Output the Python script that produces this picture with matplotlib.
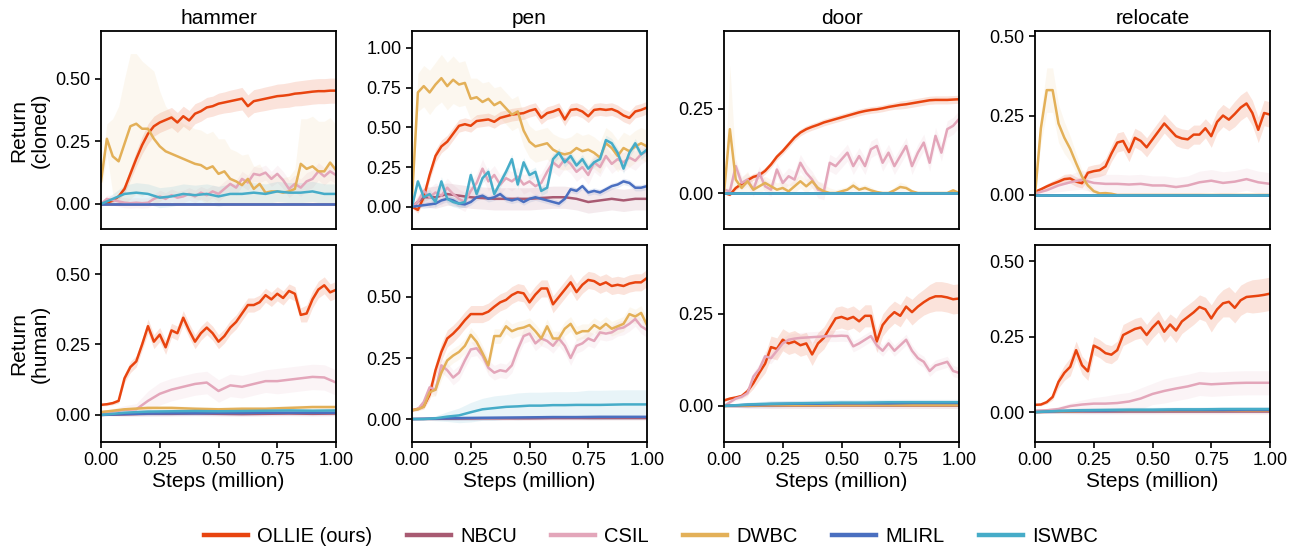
import matplotlib.pyplot as plt
import numpy as np
from matplotlib.lines import Line2D

plt.rcParams['font.family'] = ['Liberation Sans', 'DejaVu Sans']

methods = ['OLLIE (ours)', 'NBCU', 'CSIL', 'DWBC', 'MLIRL', 'ISWBC']
colors = ['#E8440F', '#A85A72', '#E3A6BA', '#E3B058', '#4A6FC0', '#46ACC8']
band_alpha = [0.15, 0.12, 0.12, 0.09, 0.12, 0.12]
tasks = ['hammer', 'pen', 'door', 'relocate']
rows = ['cloned', 'human']

# flat curves sitting on zero
FLAT_ZERO = [0.0, 0.0, 0.0, 0.0, 0.0, 0.0, 0.0, 0.0, 0.0, 0.0, 0.0]
FLAT_SD = [0.002, 0.003, 0.003, 0.003, 0.003, 0.003, 0.003, 0.003, 0.003, 0.003, 0.003]
SMALL_SD = [0.002, 0.006, 0.008, 0.008, 0.008, 0.008, 0.008, 0.008, 0.008, 0.008, 0.008]

# ---------------- hammer (cloned) ----------------
HC_OLLIE = [0.000, 0.005, 0.013, 0.030, 0.060, 0.120, 0.180, 0.235, 0.280, 0.310,
            0.325, 0.335, 0.345, 0.325, 0.350, 0.333, 0.360, 0.370, 0.385, 0.390,
            0.400, 0.405, 0.410, 0.415, 0.420, 0.390, 0.410, 0.415, 0.420, 0.425,
            0.430, 0.432, 0.435, 0.440, 0.442, 0.445, 0.448, 0.450, 0.450, 0.452,
            0.452]
HC_OLLIE_SD = [0.003, 0.005, 0.008, 0.012, 0.018, 0.025, 0.030, 0.035, 0.040, 0.040,
               0.040, 0.040, 0.040, 0.040, 0.040, 0.040, 0.040, 0.040, 0.040, 0.040,
               0.042, 0.042, 0.044, 0.044, 0.045, 0.045, 0.046, 0.046, 0.047, 0.047,
               0.048, 0.048, 0.049, 0.049, 0.050, 0.050, 0.050, 0.050, 0.050, 0.050,
               0.050]
HC_DWBC = [0.09, 0.26, 0.19, 0.17, 0.24, 0.31, 0.32, 0.30, 0.30, 0.26,
           0.23, 0.21, 0.20, 0.19, 0.18, 0.17, 0.16, 0.155, 0.14, 0.15,
           0.12, 0.13, 0.10, 0.09, 0.075, 0.10, 0.06, 0.08, 0.045, 0.05,
           0.05, 0.045, 0.05, 0.06, 0.16, 0.14, 0.15, 0.13, 0.13, 0.165,
           0.135]
HC_DWBC_SD = [0.05, 0.06, 0.15, 0.22, 0.26, 0.29, 0.28, 0.27, 0.25, 0.27,
              0.22, 0.18, 0.16, 0.15, 0.14, 0.14, 0.14, 0.14, 0.14, 0.14,
              0.14, 0.13, 0.12, 0.12, 0.12, 0.10, 0.09, 0.08, 0.07, 0.07,
              0.06, 0.06, 0.06, 0.08, 0.18, 0.2, 0.2, 0.2, 0.2, 0.18,
              0.18]
HC_CSIL = [0.0, 0.02, 0.015, 0.01, 0.005, 0.003, 0.005, 0.003, 0.005, 0.02,
           0.03, 0.02, 0.035, 0.025, 0.03, 0.04, 0.03, 0.045, 0.035, 0.05,
           0.04, 0.06, 0.08, 0.065, 0.10, 0.085, 0.12, 0.115, 0.125, 0.10,
           0.12, 0.095, 0.06, 0.08, 0.065, 0.09, 0.10, 0.13, 0.11, 0.13,
           0.115]
HC_CSIL_SD = [0.01, 0.015, 0.02, 0.02, 0.02, 0.02, 0.02, 0.02, 0.02, 0.02,
              0.025, 0.025, 0.025, 0.025, 0.025, 0.025, 0.025, 0.025, 0.025, 0.025,
              0.03, 0.03, 0.03, 0.03, 0.03, 0.03, 0.03, 0.03, 0.03, 0.03,
              0.035, 0.035, 0.035, 0.035, 0.035, 0.035, 0.035, 0.035, 0.035, 0.035,
              0.035]
HC_ISWBC = [0.0, 0.02, 0.04, 0.045, 0.04, 0.025, 0.03, 0.04, 0.035, 0.04,
            0.03, 0.04, 0.04, 0.045, 0.04, 0.05, 0.045, 0.045, 0.05, 0.04,
            0.04]
HC_ISWBC_SD = [0.005, 0.02, 0.035, 0.04, 0.04, 0.04, 0.04, 0.04, 0.04, 0.04,
               0.04, 0.04, 0.04, 0.04, 0.04, 0.04, 0.04, 0.04, 0.04, 0.04,
               0.04]

# ---------------- pen (cloned) ----------------
PC_OLLIE = [0.0, -0.02, 0.06, 0.20, 0.32, 0.38, 0.41, 0.46, 0.51, 0.52,
            0.51, 0.54, 0.545, 0.55, 0.535, 0.56, 0.57, 0.58, 0.585, 0.59,
            0.605, 0.615, 0.56, 0.59, 0.60, 0.615, 0.55, 0.61, 0.615, 0.60,
            0.57, 0.61, 0.615, 0.61, 0.615, 0.60, 0.575, 0.56, 0.60, 0.61,
            0.625]
PC_OLLIE_SD = [0.01, 0.02, 0.03, 0.035, 0.04, 0.04, 0.04, 0.04, 0.04, 0.04,
               0.04, 0.04, 0.04, 0.04, 0.04, 0.04, 0.04, 0.04, 0.04, 0.04,
               0.04, 0.04, 0.04, 0.04, 0.04, 0.04, 0.04, 0.04, 0.04, 0.04,
               0.04, 0.04, 0.04, 0.04, 0.04, 0.04, 0.04, 0.04, 0.04, 0.04,
               0.04]
PC_DWBC = [0.05, 0.72, 0.76, 0.72, 0.77, 0.81, 0.76, 0.80, 0.77, 0.78,
           0.68, 0.69, 0.66, 0.68, 0.64, 0.66, 0.62, 0.58, 0.60, 0.48,
           0.41, 0.38, 0.39, 0.40, 0.36, 0.34, 0.33, 0.34, 0.37, 0.35,
           0.36, 0.34, 0.31, 0.40, 0.37, 0.32, 0.37, 0.35, 0.38, 0.40,
           0.38]
PC_DWBC_SD = [0.02, 0.12, 0.13, 0.14, 0.14, 0.15, 0.15, 0.15, 0.14, 0.14,
              0.13, 0.12, 0.12, 0.11, 0.11, 0.10, 0.10, 0.10, 0.10, 0.10,
              0.10, 0.10, 0.10, 0.10, 0.10, 0.10, 0.10, 0.10, 0.10, 0.10,
              0.10, 0.10, 0.10, 0.10, 0.10, 0.10, 0.10, 0.10, 0.10, 0.10,
              0.10]
PC_CSIL = [0.0, 0.03, 0.10, 0.06, 0.09, 0.07, 0.12, 0.08, 0.05, 0.03,
           0.10, 0.15, 0.24, 0.16, 0.20, 0.14, 0.18, 0.16, 0.19, 0.14,
           0.16, 0.13, 0.15, 0.22, 0.28, 0.25, 0.30, 0.27, 0.22, 0.25,
           0.20, 0.28, 0.25, 0.32, 0.27, 0.30, 0.28, 0.31, 0.29, 0.33,
           0.35]
PC_CSIL_SD = [0.01, 0.04, 0.05, 0.06, 0.06, 0.06, 0.06, 0.06, 0.06, 0.06,
              0.06, 0.06, 0.06, 0.06, 0.06, 0.06, 0.06, 0.06, 0.06, 0.06,
              0.06, 0.06, 0.06, 0.06, 0.06, 0.06, 0.06, 0.06, 0.06, 0.06,
              0.06, 0.06, 0.06, 0.06, 0.06, 0.06, 0.06, 0.06, 0.06, 0.06,
              0.06]
PC_MLIRL = [0.0, 0.005, 0.01, 0.015, 0.02, 0.04, 0.05, 0.04, 0.02, 0.015,
            0.03, 0.06, 0.07, 0.05, 0.06, 0.08, 0.05, 0.04, 0.05, 0.03,
            0.05, 0.06, 0.05, 0.04, 0.03, 0.02, 0.05, 0.11, 0.10, 0.13,
            0.09, 0.10, 0.09, 0.11, 0.13, 0.14, 0.16, 0.15, 0.12, 0.12,
            0.13]
PC_MLIRL_SD = [0.005, 0.01, 0.02, 0.02, 0.02, 0.02, 0.02, 0.02, 0.02, 0.02,
               0.02, 0.02, 0.02, 0.02, 0.02, 0.02, 0.02, 0.02, 0.02, 0.02,
               0.02, 0.02, 0.02, 0.02, 0.02, 0.02, 0.02, 0.02, 0.02, 0.02,
               0.02, 0.02, 0.02, 0.02, 0.02, 0.02, 0.02, 0.02, 0.02, 0.02,
               0.02]
PC_ISWBC = [0.0, 0.16, 0.06, 0.08, 0.03, 0.16, 0.05, 0.03, 0.02, 0.03,
            0.20, 0.08, 0.18, 0.22, 0.08, 0.15, 0.22, 0.30, 0.14, 0.28,
            0.20, 0.22, 0.10, 0.12, 0.30, 0.34, 0.28, 0.32, 0.26, 0.30,
            0.24, 0.28, 0.30, 0.42, 0.40, 0.34, 0.24, 0.34, 0.40, 0.33,
            0.36]
PC_ISWBC_SD = [0.005, 0.02, 0.03, 0.03, 0.03, 0.03, 0.03, 0.03, 0.03, 0.03,
               0.03, 0.03, 0.03, 0.03, 0.03, 0.03, 0.03, 0.03, 0.03, 0.03,
               0.03, 0.03, 0.03, 0.03, 0.03, 0.03, 0.03, 0.03, 0.03, 0.03,
               0.03, 0.03, 0.03, 0.03, 0.03, 0.03, 0.03, 0.03, 0.03, 0.03,
               0.03]
PC_NBCU = [0.0, 0.06, 0.06, 0.08, 0.07, 0.06, 0.055, 0.05, 0.05, 0.05,
           0.05, 0.055, 0.06, 0.06, 0.05, 0.03, 0.04, 0.05, 0.04, 0.05,
           0.05]
PC_NBCU_SD = [0.01, 0.06, 0.07, 0.07, 0.07, 0.07, 0.07, 0.07, 0.07, 0.07,
              0.07, 0.07, 0.07, 0.07, 0.07, 0.07, 0.07, 0.07, 0.07, 0.07,
              0.07]

# ---------------- door (cloned) ----------------
DC_OLLIE = [0.0, -0.005, 0.015, 0.027, 0.038, 0.048, 0.053, 0.066, 0.085, 0.108,
            0.125, 0.145, 0.165, 0.18, 0.19, 0.197, 0.203, 0.21, 0.215, 0.22,
            0.225, 0.23, 0.235, 0.24, 0.244, 0.247, 0.249, 0.252, 0.256, 0.259,
            0.262, 0.264, 0.267, 0.27, 0.273, 0.276, 0.277, 0.277, 0.277, 0.278,
            0.279]
DC_OLLIE_SD = [0.002, 0.004, 0.006, 0.008, 0.01, 0.01, 0.01, 0.01, 0.01, 0.01,
               0.01, 0.01, 0.01, 0.01, 0.01, 0.01, 0.01, 0.01, 0.01, 0.01,
               0.01, 0.01, 0.01, 0.01, 0.01, 0.01, 0.01, 0.01, 0.01, 0.01,
               0.012, 0.012, 0.012, 0.012, 0.012, 0.012, 0.012, 0.012, 0.012, 0.012,
               0.012]
DC_CSIL = [0.01, 0.005, 0.08, 0.03, 0.04, 0.01, 0.06, 0.02, 0.01, 0.07,
           0.03, 0.05, 0.04, 0.09, 0.06, 0.04, 0.01, 0.005, 0.09, 0.08,
           0.10, 0.12, 0.08, 0.11, 0.08, 0.13, 0.14, 0.09, 0.12, 0.08,
           0.11, 0.14, 0.08, 0.12, 0.15, 0.09, 0.17, 0.12, 0.19, 0.20,
           0.22]
DC_CSIL_SD = [0.005, 0.01, 0.02, 0.02, 0.02, 0.02, 0.02, 0.02, 0.02, 0.02,
              0.025, 0.025, 0.025, 0.025, 0.025, 0.025, 0.025, 0.025, 0.025, 0.025,
              0.025, 0.025, 0.025, 0.025, 0.025, 0.025, 0.025, 0.025, 0.025, 0.025,
              0.025, 0.025, 0.025, 0.025, 0.025, 0.025, 0.025, 0.025, 0.025, 0.025,
              0.025]
DC_DWBC = [0.0, 0.19, 0.04, 0.015, 0.035, 0.01, 0.02, 0.03, 0.02, 0.01,
           0.015, 0.005, 0.02, 0.035, 0.02, 0.035, 0.015, 0.005, 0.0, 0.0,
           0.005, 0.01, 0.022, 0.01, 0.015, 0.008, 0.003, 0.0, 0.0, 0.008,
           0.018, 0.015, 0.005, 0.0, 0.0, 0.0, 0.0, 0.0, 0.0, 0.008,
           0.0]
DC_DWBC_SD = [0.0, 0.19, 0.05, 0.03, 0.03, 0.02, 0.02, 0.02, 0.02, 0.02,
              0.02, 0.02, 0.02, 0.02, 0.02, 0.02, 0.02, 0.02, 0.015, 0.01,
              0.01, 0.01, 0.015, 0.01, 0.01, 0.01, 0.005, 0.003, 0.003, 0.01,
              0.015, 0.01, 0.005, 0.003, 0.003, 0.003, 0.003, 0.003, 0.003, 0.005,
              0.003]

# ---------------- relocate (cloned) ----------------
RC_OLLIE = [0.01, 0.018, 0.027, 0.035, 0.042, 0.05, 0.052, 0.042, 0.037, 0.07,
            0.075, 0.078, 0.09, 0.13, 0.165, 0.17, 0.135, 0.18, 0.17, 0.15,
            0.175, 0.20, 0.225, 0.205, 0.185, 0.178, 0.175, 0.19, 0.19, 0.21,
            0.185, 0.23, 0.25, 0.237, 0.255, 0.275, 0.288, 0.258, 0.205, 0.258,
            0.253]
RC_OLLIE_SD = [0.003, 0.005, 0.008, 0.01, 0.012, 0.015, 0.015, 0.015, 0.015, 0.02,
               0.02, 0.02, 0.025, 0.025, 0.03, 0.03, 0.03, 0.03, 0.03, 0.03,
               0.03, 0.03, 0.03, 0.03, 0.03, 0.03, 0.03, 0.03, 0.03, 0.03,
               0.035, 0.035, 0.035, 0.035, 0.04, 0.04, 0.04, 0.04, 0.04, 0.04,
               0.04]
RC_DWBC = [0.0, 0.21, 0.33, 0.33, 0.225, 0.18, 0.145, 0.10, 0.058, 0.03,
           0.012, 0.005, 0.006, 0.004, 0.0, 0.0, 0.0, 0.0, 0.0, 0.0,
           0.0, 0.0, 0.0, 0.0, 0.0, 0.0, 0.0, 0.0, 0.0, 0.0,
           0.0, 0.0, 0.0, 0.0, 0.0, 0.0, 0.0, 0.0, 0.0, 0.0,
           0.0]
RC_DWBC_SD = [0.0, 0.05, 0.07, 0.07, 0.06, 0.05, 0.04, 0.03, 0.02, 0.015,
              0.01, 0.005, 0.005, 0.004, 0.002, 0.002, 0.002, 0.002, 0.002, 0.002,
              0.002, 0.002, 0.002, 0.002, 0.002, 0.002, 0.002, 0.002, 0.002, 0.002,
              0.002, 0.002, 0.002, 0.002, 0.002, 0.002, 0.002, 0.002, 0.002, 0.002,
              0.002]
RC_CSIL = [0.005, 0.015, 0.03, 0.04, 0.048, 0.038, 0.035, 0.035, 0.033, 0.035,
           0.03, 0.03, 0.025, 0.03, 0.04, 0.045, 0.038, 0.042, 0.05, 0.04,
           0.035]
RC_CSIL_SD = [0.003, 0.01, 0.02, 0.025, 0.03, 0.03, 0.03, 0.03, 0.03, 0.03,
              0.03, 0.03, 0.03, 0.03, 0.035, 0.035, 0.035, 0.035, 0.035, 0.035,
              0.035]

# ---------------- hammer (human) ----------------
HH_OLLIE = [0.036, 0.038, 0.042, 0.05, 0.13, 0.17, 0.19, 0.25, 0.315, 0.26,
            0.285, 0.24, 0.30, 0.29, 0.345, 0.30, 0.26, 0.29, 0.31, 0.29,
            0.26, 0.28, 0.31, 0.33, 0.36, 0.39, 0.39, 0.40, 0.425, 0.41,
            0.43, 0.415, 0.44, 0.43, 0.355, 0.36, 0.41, 0.445, 0.46, 0.435,
            0.444]
HH_OLLIE_SD = [0.004, 0.005, 0.006, 0.008, 0.015, 0.02, 0.02, 0.02, 0.025, 0.025,
               0.025, 0.025, 0.025, 0.025, 0.025, 0.025, 0.025, 0.025, 0.025, 0.025,
               0.025, 0.025, 0.025, 0.025, 0.025, 0.025, 0.025, 0.025, 0.025, 0.025,
               0.025, 0.025, 0.025, 0.025, 0.025, 0.03, 0.03, 0.03, 0.03, 0.03,
               0.03]
HH_CSIL = [0.01, 0.012, 0.018, 0.02, 0.05, 0.075, 0.09, 0.10, 0.11, 0.115,
           0.085, 0.105, 0.10, 0.11, 0.12, 0.12, 0.125, 0.13, 0.135, 0.133,
           0.115]
HH_CSIL_SD = [0.005, 0.01, 0.015, 0.02, 0.035, 0.04, 0.04, 0.04, 0.04, 0.04,
              0.04, 0.04, 0.04, 0.04, 0.04, 0.045, 0.045, 0.045, 0.045, 0.045,
              0.045]
HH_DWBC = [0.01, 0.02, 0.025, 0.025, 0.022, 0.02, 0.022, 0.022, 0.025, 0.028, 0.028]
HH_ISWBC = [0.0, 0.008, 0.012, 0.013, 0.014, 0.013, 0.014, 0.015, 0.016, 0.015, 0.016]
HH_MLIRL = [0.0, 0.003, 0.005, 0.006, 0.006, 0.007, 0.007, 0.008, 0.008, 0.008, 0.008]
HH_NBCU = [0.0, 0.002, 0.004, 0.004, 0.005, 0.004, 0.003, 0.004, 0.005, 0.004, 0.005]

# ---------------- pen (human) ----------------
PH_OLLIE = [0.036, 0.042, 0.052, 0.10, 0.20, 0.275, 0.33, 0.35, 0.375, 0.405,
            0.43, 0.43, 0.43, 0.44, 0.46, 0.478, 0.488, 0.508, 0.52, 0.515,
            0.478, 0.51, 0.535, 0.535, 0.47, 0.50, 0.53, 0.56, 0.52, 0.55,
            0.57, 0.565, 0.55, 0.56, 0.545, 0.55, 0.545, 0.555, 0.56, 0.56,
            0.578]
PH_OLLIE_SD = [0.005, 0.006, 0.01, 0.02, 0.03, 0.035, 0.035, 0.035, 0.035, 0.035,
               0.035, 0.035, 0.035, 0.035, 0.035, 0.035, 0.035, 0.035, 0.035, 0.035,
               0.035, 0.035, 0.035, 0.035, 0.035, 0.035, 0.035, 0.035, 0.035, 0.035,
               0.035, 0.035, 0.035, 0.035, 0.035, 0.035, 0.035, 0.035, 0.035, 0.035,
               0.035]
PH_DWBC = [0.036, 0.04, 0.05, 0.11, 0.12, 0.19, 0.24, 0.26, 0.275, 0.30,
           0.345, 0.316, 0.27, 0.22, 0.34, 0.34, 0.38, 0.36, 0.37, 0.375,
           0.385, 0.36, 0.33, 0.38, 0.33, 0.33, 0.37, 0.39, 0.35, 0.36,
           0.36, 0.385, 0.37, 0.39, 0.37, 0.38, 0.39, 0.43, 0.42, 0.435,
           0.385]
PH_DWBC_SD = [0.005, 0.006, 0.01, 0.02, 0.025, 0.03, 0.03, 0.03, 0.03, 0.03,
              0.03, 0.03, 0.03, 0.03, 0.03, 0.03, 0.03, 0.03, 0.03, 0.03,
              0.03, 0.03, 0.03, 0.03, 0.03, 0.03, 0.03, 0.03, 0.03, 0.03,
              0.03, 0.03, 0.03, 0.03, 0.03, 0.03, 0.03, 0.03, 0.03, 0.03,
              0.03]
PH_CSIL = [0.036, 0.04, 0.07, 0.13, 0.12, 0.22, 0.20, 0.17, 0.19, 0.24,
           0.285, 0.29, 0.26, 0.21, 0.19, 0.20, 0.195, 0.22, 0.285, 0.34,
           0.35, 0.31, 0.33, 0.32, 0.30, 0.33, 0.30, 0.25, 0.30, 0.31,
           0.33, 0.32, 0.355, 0.35, 0.355, 0.37, 0.375, 0.39, 0.41, 0.38,
           0.365]
PH_CSIL_SD = [0.005, 0.006, 0.01, 0.02, 0.025, 0.03, 0.03, 0.03, 0.03, 0.03,
              0.03, 0.03, 0.03, 0.03, 0.03, 0.03, 0.03, 0.03, 0.03, 0.03,
              0.03, 0.03, 0.03, 0.03, 0.03, 0.03, 0.03, 0.03, 0.03, 0.03,
              0.03, 0.03, 0.03, 0.03, 0.03, 0.03, 0.03, 0.03, 0.03, 0.03,
              0.03]
PH_ISWBC = [0.0, 0.0, 0.003, 0.01, 0.015, 0.028, 0.04, 0.045, 0.05, 0.052,
            0.055, 0.055, 0.057, 0.057, 0.058, 0.058, 0.058, 0.059, 0.06, 0.06,
            0.06]
PH_ISWBC_SD = [0.002, 0.004, 0.01, 0.02, 0.03, 0.04, 0.045, 0.05, 0.05, 0.055,
               0.055, 0.055, 0.055, 0.055, 0.055, 0.06, 0.06, 0.06, 0.06, 0.06,
               0.06]
PH_MLIRL = [0.0, 0.002, 0.004, 0.005, 0.006, 0.007, 0.008, 0.008, 0.009, 0.009, 0.009]
PH_NBCU = [0.0, 0.001, 0.002, 0.003, 0.003, 0.003, 0.004, 0.004, 0.004, 0.004, 0.004]

# ---------------- door (human) ----------------
DH_OLLIE = [0.015, 0.02, 0.023, 0.027, 0.04, 0.062, 0.09, 0.115, 0.16, 0.155,
            0.18, 0.17, 0.175, 0.165, 0.17, 0.14, 0.17, 0.185, 0.212, 0.238,
            0.242, 0.236, 0.242, 0.23, 0.245, 0.245, 0.175, 0.22, 0.24, 0.255,
            0.245, 0.27, 0.255, 0.27, 0.282, 0.292, 0.298, 0.298, 0.295, 0.29,
            0.292]
DH_OLLIE_SD = [0.003, 0.004, 0.005, 0.006, 0.01, 0.015, 0.02, 0.025, 0.03, 0.03,
               0.03, 0.03, 0.03, 0.03, 0.03, 0.03, 0.03, 0.03, 0.03, 0.03,
               0.03, 0.03, 0.03, 0.03, 0.03, 0.03, 0.03, 0.03, 0.03, 0.03,
               0.03, 0.03, 0.035, 0.035, 0.035, 0.038, 0.04, 0.04, 0.04, 0.04,
               0.04]
DH_CSIL = [0.0, 0.01, 0.02, 0.025, 0.035, 0.08, 0.10, 0.135, 0.13, 0.15,
           0.17, 0.18, 0.183, 0.185, 0.186, 0.187, 0.188, 0.189, 0.19, 0.19,
           0.191, 0.19, 0.162, 0.17, 0.18, 0.19, 0.165, 0.15, 0.17, 0.15,
           0.165, 0.18, 0.15, 0.13, 0.12, 0.095, 0.11, 0.115, 0.12, 0.095,
           0.09]
DH_CSIL_SD = [0.002, 0.004, 0.006, 0.008, 0.01, 0.012, 0.015, 0.015, 0.015, 0.015,
              0.015, 0.015, 0.015, 0.015, 0.015, 0.015, 0.015, 0.015, 0.015, 0.015,
              0.015, 0.015, 0.015, 0.015, 0.015, 0.015, 0.015, 0.015, 0.015, 0.015,
              0.015, 0.015, 0.015, 0.015, 0.015, 0.015, 0.015, 0.015, 0.015, 0.015,
              0.015]
DH_ISWBC = [0.0, 0.004, 0.006, 0.007, 0.008, 0.009, 0.009, 0.01, 0.01, 0.01, 0.01]
DH_DWBC = [0.0, 0.001, 0.002, 0.002, 0.002, 0.002, 0.002, 0.002, 0.002, 0.002, 0.002]
DH_MLIRL = [0.0, 0.003, 0.005, 0.006, 0.006, 0.007, 0.007, 0.007, 0.008, 0.008, 0.008]
DH_NBCU = [0.0, 0.0, 0.001, 0.001, 0.001, 0.001, 0.001, 0.001, 0.001, 0.001, 0.001]

# ---------------- relocate (human) ----------------
RH_OLLIE = [0.024, 0.025, 0.033, 0.05, 0.10, 0.13, 0.15, 0.205, 0.155, 0.135,
            0.22, 0.21, 0.195, 0.19, 0.205, 0.255, 0.265, 0.275, 0.28, 0.255,
            0.28, 0.30, 0.266, 0.29, 0.27, 0.30, 0.315, 0.33, 0.348, 0.34,
            0.31, 0.34, 0.36, 0.365, 0.345, 0.37, 0.381, 0.383, 0.385, 0.388,
            0.392]
RH_OLLIE_SD = [0.003, 0.004, 0.006, 0.01, 0.02, 0.025, 0.03, 0.03, 0.03, 0.03,
               0.03, 0.03, 0.03, 0.03, 0.03, 0.035, 0.035, 0.035, 0.035, 0.035,
               0.035, 0.035, 0.035, 0.035, 0.04, 0.04, 0.04, 0.04, 0.04, 0.04,
               0.045, 0.045, 0.045, 0.05, 0.05, 0.05, 0.05, 0.055, 0.055, 0.055,
               0.055]
RH_CSIL = [0.005, 0.006, 0.01, 0.02, 0.025, 0.028, 0.028, 0.03, 0.035, 0.045,
           0.06, 0.07, 0.078, 0.085, 0.095, 0.092, 0.094, 0.096, 0.097, 0.097,
           0.097]
RH_CSIL_SD = [0.003, 0.005, 0.008, 0.01, 0.015, 0.02, 0.025, 0.03, 0.03, 0.035,
              0.035, 0.04, 0.04, 0.04, 0.04, 0.04, 0.04, 0.04, 0.04, 0.04,
              0.04]
RH_ISWBC = [0.0, 0.004, 0.006, 0.007, 0.008, 0.008, 0.009, 0.009, 0.01, 0.01, 0.01]
RH_MLIRL = [0.0, 0.003, 0.005, 0.005, 0.006, 0.006, 0.007, 0.007, 0.007, 0.008, 0.008]
RH_DWBC = [0.0, 0.002, 0.004, 0.005, 0.005, 0.005, 0.006, 0.006, 0.006, 0.006, 0.006]
RH_NBCU = [0.0, 0.001, 0.002, 0.002, 0.002, 0.002, 0.002, 0.002, 0.002, 0.002, 0.002]

# per panel: series in legend order (mean, sd)
panels = [
    [  # cloned row
        [(HC_OLLIE, HC_OLLIE_SD), (FLAT_ZERO, FLAT_SD), (HC_CSIL, HC_CSIL_SD),
         (HC_DWBC, HC_DWBC_SD), (FLAT_ZERO, FLAT_SD), (HC_ISWBC, HC_ISWBC_SD)],
        [(PC_OLLIE, PC_OLLIE_SD), (PC_NBCU, PC_NBCU_SD), (PC_CSIL, PC_CSIL_SD),
         (PC_DWBC, PC_DWBC_SD), (PC_MLIRL, PC_MLIRL_SD), (PC_ISWBC, PC_ISWBC_SD)],
        [(DC_OLLIE, DC_OLLIE_SD), (FLAT_ZERO, FLAT_SD), (DC_CSIL, DC_CSIL_SD),
         (DC_DWBC, DC_DWBC_SD), (FLAT_ZERO, FLAT_SD), (FLAT_ZERO, FLAT_SD)],
        [(RC_OLLIE, RC_OLLIE_SD), (FLAT_ZERO, FLAT_SD), (RC_CSIL, RC_CSIL_SD),
         (RC_DWBC, RC_DWBC_SD), (FLAT_ZERO, FLAT_SD), (FLAT_ZERO, FLAT_SD)],
    ],
    [  # human row
        [(HH_OLLIE, HH_OLLIE_SD), (HH_NBCU, SMALL_SD), (HH_CSIL, HH_CSIL_SD),
         (HH_DWBC, SMALL_SD), (HH_MLIRL, SMALL_SD), (HH_ISWBC, SMALL_SD)],
        [(PH_OLLIE, PH_OLLIE_SD), (PH_NBCU, SMALL_SD), (PH_CSIL, PH_CSIL_SD),
         (PH_DWBC, PH_DWBC_SD), (PH_MLIRL, SMALL_SD), (PH_ISWBC, PH_ISWBC_SD)],
        [(DH_OLLIE, DH_OLLIE_SD), (DH_NBCU, SMALL_SD), (DH_CSIL, DH_CSIL_SD),
         (DH_DWBC, SMALL_SD), (DH_MLIRL, SMALL_SD), (DH_ISWBC, SMALL_SD)],
        [(RH_OLLIE, RH_OLLIE_SD), (RH_NBCU, SMALL_SD), (RH_CSIL, RH_CSIL_SD),
         (RH_DWBC, SMALL_SD), (RH_MLIRL, SMALL_SD), (RH_ISWBC, SMALL_SD)],
    ],
]

ylims = [[(-0.1, 0.69), (-0.14, 1.107), (-0.107, 0.482), (-0.107, 0.516)],
         [(-0.096, 0.603), (-0.094, 0.713), (-0.098, 0.4375), (-0.099, 0.553)]]
yticks = [[[0, 0.25, 0.5], [0, 0.25, 0.5, 0.75, 1.0], [0, 0.25], [0, 0.25, 0.5]],
          [[0, 0.25, 0.5], [0, 0.25, 0.5], [0, 0.25], [0, 0.25, 0.5]]]

fig = plt.figure(figsize=(13.02, 5.5), dpi=100)
lefts = [101, 412, 724, 1035]
row_px = [(31, 229), (245, 442)]

for r in range(2):
    top, bot = row_px[r]
    for c in range(4):
        ax = fig.add_axes([lefts[c] / 1302, 1 - bot / 550, 235 / 1302, (bot - top) / 550])
        for k, (mean, sd) in enumerate(panels[r][c]):
            mean = np.array(mean)
            sd = np.array(sd)
            x = np.linspace(0, 1, len(mean))
            lower = mean - sd
            if methods[k] == 'DWBC':
                # DWBC spread never dips below zero in the original
                lower = np.maximum(lower, 0.0)
            ax.fill_between(x, lower, mean + sd, color=colors[k], alpha=band_alpha[k], lw=0)
            ax.plot(x, mean, color=colors[k], lw=1.8)
        ax.set_xlim(0, 1)
        ax.set_ylim(*ylims[r][c])
        ax.set_yticks(yticks[r][c])
        ax.set_yticklabels(['%.2f' % t for t in yticks[r][c]])
        ax.tick_params(labelsize=13, length=4, width=1.2)
        for s in ax.spines.values():
            s.set_linewidth(1.3)
        if r == 0:
            ax.set_title(tasks[c], fontsize=15, pad=5)
            ax.tick_params(axis='x', bottom=False, labelbottom=False)
        else:
            ax.set_xticks([0, 0.25, 0.5, 0.75, 1.0])
            ax.set_xticklabels(['0.00', '0.25', '0.50', '0.75', '1.00'])
            ax.set_xlabel('Steps (million)', fontsize=15, labelpad=2)
        if c == 0:
            ax.set_ylabel('Return\n(' + rows[r] + ')', fontsize=15)

handles = [Line2D([0], [0], color=col, lw=3.2) for col in colors]
fig.legend(handles, methods, loc='center', bbox_to_anchor=(0.5, 0.024), ncol=6,
           frameon=False, fontsize=14.5, handlelength=2.2, columnspacing=1.7,
           handletextpad=0.45)

fig.savefig('out.png', dpi=100)
